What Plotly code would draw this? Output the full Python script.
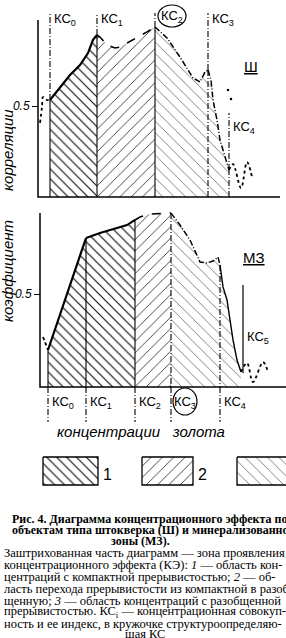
import plotly.graph_objects as go
import numpy as np

W, H = 286, 638

# ---------------- data: top panel (Ш) ----------------
top_kc_labels = ["КС<sub>0</sub>", "КС<sub>1</sub>", "КС<sub>2</sub>", "КС<sub>3</sub>", "КС<sub>4</sub>"]
top_kc_x = [12, 59, 117, 170, 191]
top_x = [12, 22, 32, 42, 50, 55, 59, 62, 69, 77, 82, 95, 109, 117, 129, 142, 155, 162,
         167, 170, 173, 175, 179, 182, 187, 191]
top_y = [0.533, 0.599, 0.670, 0.725, 0.791, 0.863, 0.890, 0.879, 0.835, 0.819, 0.824,
         0.863, 0.907, 0.934, 0.874, 0.769, 0.654, 0.632, 0.687, 0.698, 0.643, 0.533,
         0.423, 0.313, 0.220, 0.148]
top_left_x = [2, 4, 5, 9, 12]
top_left_y = [0.407, 0.495, 0.549, 0.533, 0.533]
top_right_x = [191, 195, 203, 209, 214]
top_right_y = [0.148, 0.181, 0.049, 0.192, 0.110]
top_dots_x = [190, 193]
top_dots_y = [0.588, 0.538]

# ---------------- data: bottom panel (МЗ) ----------------
bot_kc_labels = ["КС<sub>0</sub>", "КС<sub>1</sub>", "КС<sub>2</sub>", "КС<sub>3</sub>", "КС<sub>4</sub>", "КС<sub>5</sub>"]
bot_kc_x = [8, 46, 95, 131, 180, 201]
bot_x = [8, 17, 27, 37, 46, 60, 77, 87, 95, 100, 110, 123, 131, 140, 150, 160, 167,
         173, 178, 180, 183, 187, 190, 193, 197, 201]
bot_y = [0.199, 0.344, 0.505, 0.667, 0.801, 0.828, 0.855, 0.871, 0.898, 0.914, 0.930,
         0.935, 0.935, 0.871, 0.790, 0.672, 0.667, 0.677, 0.699, 0.656, 0.538, 0.468,
         0.360, 0.253, 0.145, 0.081]
bot_left_x = [3, 5, 8]
bot_left_y = [0.269, 0.242, 0.199]
bot_right_x = [201, 207, 213, 223, 228]
bot_right_y = [0.081, 0.129, 0.027, 0.134, 0.081]

# ---------------- pixel frame helpers ----------------
def py(p):
    return 1 - p / H

TOP_DOM = (205, 0)      # pixel rows (bottom, top)
BOT_DOM = (440, 205)
TOP_Y0, TOP_K = 197, 182   # pixel row of y=0 and px per unit
BOT_Y0, BOT_K = 387, 186

top_range = [(TOP_Y0 - TOP_DOM[0]) / TOP_K, (TOP_Y0 - TOP_DOM[1]) / TOP_K]
bot_range = [(BOT_Y0 - BOT_DOM[0]) / BOT_K, (BOT_Y0 - BOT_DOM[1]) / BOT_K]

P1 = dict(shape="\\", size=7, solidity=0.17, fgcolor="#111", bgcolor="rgba(0,0,0,0)", fillmode="replace")
P2 = dict(shape="/", size=8, solidity=0.11, fgcolor="#333", bgcolor="rgba(0,0,0,0)", fillmode="replace")
P3 = dict(shape="\\", size=8, solidity=0.10, fgcolor="#666", bgcolor="rgba(0,0,0,0)", fillmode="replace")
DASHDOT = "6px,2px,1px,2px"

fig = go.Figure()


def seg(xs, ys, a, b):
    pts = [(x, y) for x, y in zip(xs, ys) if a <= x <= b]
    return [p[0] for p in pts], [p[1] for p in pts]


def panel(xs, ys, kcs, pats, dashes, widths, xa, ya):
    for i in range(len(kcs) - 1):
        sx, sy = seg(xs, ys, kcs[i], kcs[i + 1])
        fig.add_trace(go.Scatter(x=sx, y=sy, fill="tozeroy", mode="lines",
                                 line=dict(width=0), fillcolor="rgba(0,0,0,0)",
                                 fillpattern=pats[i], xaxis=xa, yaxis=ya, hoverinfo="skip"))
    for i in range(len(kcs) - 1):
        sx, sy = seg(xs, ys, kcs[i], kcs[i + 1])
        fig.add_trace(go.Scatter(x=sx, y=sy, mode="lines",
                                 line=dict(color="black", width=widths[i], dash=dashes[i]),
                                 xaxis=xa, yaxis=ya, hoverinfo="skip"))


panel(top_x, top_y, top_kc_x, [P1, P2, P3, P3],
      ["solid", "dash", DASHDOT, DASHDOT], [2.2, 1.6, 1.5, 1.5], "x", "y")
panel(bot_x, bot_y, bot_kc_x, [P1, P1, P2, P3, P3],
      ["solid", "solid", "dash", DASHDOT, "solid"], [2.2, 2.0, 1.6, 1.5, 1.4], "x2", "y2")

# dotted tails
for xs, ys, xa, ya in [(top_left_x, top_left_y, "x", "y"), (top_right_x, top_right_y, "x", "y"),
                       (bot_left_x, bot_left_y, "x2", "y2"), (bot_right_x, bot_right_y, "x2", "y2")]:
    fig.add_trace(go.Scatter(x=xs, y=ys, mode="lines", line=dict(color="black", width=1.8, dash="dot"),
                             line_shape="spline", xaxis=xa, yaxis=ya, hoverinfo="skip"))
fig.add_trace(go.Scatter(x=top_dots_x, y=top_dots_y, mode="markers",
                         marker=dict(color="black", size=2.5), xaxis="x", yaxis="y"))

# axes (L shapes)
top_axis_top = (TOP_Y0 - 20) / TOP_K
bot_axis_top = (BOT_Y0 - 213) / BOT_K
fig.add_trace(go.Scatter(x=[0, 0, 242], y=[top_axis_top, 0, 0], mode="lines",
                         line=dict(color="black", width=1.5), xaxis="x", yaxis="y"))
fig.add_trace(go.Scatter(x=[0, 0, 246], y=[bot_axis_top, 0, 0], mode="lines",
                         line=dict(color="black", width=1.5), xaxis="x2", yaxis="y2"))

# vertical KC lines - top
top_line_top = (TOP_Y0 - 13) / TOP_K
kc4_top = (TOP_Y0 - 113) / TOP_K
for i, k in enumerate(top_kc_x):
    yk = float(np.interp(k, top_x, top_y))
    upper = kc4_top if i == 4 else top_line_top
    fig.add_trace(go.Scatter(x=[k, k], y=[0, yk], mode="lines",
                             line=dict(color="black", width=1.1, dash="solid" if i < 3 else DASHDOT),
                             xaxis="x", yaxis="y"))
    fig.add_trace(go.Scatter(x=[k, k], y=[yk, upper], mode="lines",
                             line=dict(color="black", width=1.1, dash=DASHDOT), xaxis="x", yaxis="y"))

# vertical KC lines - bottom
bot_line_low = (BOT_Y0 - 422) / BOT_K
for i, k in enumerate(bot_kc_x[:5]):
    yk = float(np.interp(k, bot_x, bot_y))
    fig.add_trace(go.Scatter(x=[k, k], y=[yk, 0], mode="lines",
                             line=dict(color="black", width=1.1, dash="solid" if i < 3 else DASHDOT),
                             xaxis="x2", yaxis="y2"))
    fig.add_trace(go.Scatter(x=[k, k], y=[0, bot_line_low], mode="lines",
                             line=dict(color="black", width=1.1, dash=DASHDOT), xaxis="x2", yaxis="y2"))
kc5 = bot_kc_x[5] + 2
fig.add_trace(go.Scatter(x=[kc5, kc5], y=[(BOT_Y0 - 285) / BOT_K, (BOT_Y0 - 373) / BOT_K], mode="lines",
                         line=dict(color="black", width=1.2), xaxis="x2", yaxis="y2"))

ann = []
LF = dict(family="Liberation Sans, Arial", size=13, color="black")


def A(**kw):
    kw.setdefault("showarrow", False)
    kw.setdefault("xanchor", "left")
    kw.setdefault("yanchor", "middle")
    ann.append(kw)


top_lab_y = (TOP_Y0 - 19) / TOP_K
for i, (k, t) in enumerate(zip(top_kc_x, top_kc_labels)):
    if i == 4:
        A(x=k + 2, y=(TOP_Y0 - 127) / TOP_K, xref="x", yref="y", text=t, font=LF)
    elif i == 2:
        A(x=k + 17, y=(TOP_Y0 - 16) / TOP_K, xref="x", yref="y", text=t, xanchor="center", font=LF)
    else:
        A(x=k + 2, y=top_lab_y, xref="x", yref="y", text=t, font=LF)

bot_lab_y = (BOT_Y0 - 402) / BOT_K
for i, (k, t) in enumerate(zip(bot_kc_x[:5], bot_kc_labels[:5])):
    if i == 3:
        A(x=k + 14, y=bot_lab_y, xref="x2", yref="y2", text=t, xanchor="center", font=LF)
    else:
        A(x=k + 2, y=bot_lab_y, xref="x2", yref="y2", text=t, font=LF)
A(x=kc5 + 2, y=(BOT_Y0 - 337) / BOT_K, xref="x2", yref="y2", text=bot_kc_labels[5], font=LF)

A(x=204, y=(TOP_Y0 - 66) / TOP_K, xref="x", yref="y", text="<u>Ш</u>",
  font=dict(family="Liberation Sans", size=15, color="black"))
A(x=214, y=(BOT_Y0 - 257) / BOT_K, xref="x2", yref="y2", text="<u>МЗ</u>", xanchor="center",
  font=dict(family="Liberation Sans", size=15, color="black"))

IF = dict(family="Liberation Sans, Arial", size=15, color="black", style="italic")
A(x=7 / W, y=py(150), xref="paper", yref="paper", text="корреляции", textangle=-90,
  xanchor="center", font=IF)
A(x=7 / W, y=py(271), xref="paper", yref="paper", text="коэффициент", textangle=-90,
  xanchor="center", font=IF)
A(x=141 / W, y=py(431), xref="paper", yref="paper", text="концентрации   золота",
  xanchor="center", font=IF)

# legend swatches
for x0, x1, p, lab in [(43, 98, P1, "1"), (142, 193, P2, "2"), (237, 300, P3, "")]:
    fig.add_trace(go.Scatter(x=[x0, x1, x1, x0, x0], y=[457, 457, 485, 485, 457], mode="lines",
                             fill="toself", fillcolor="rgba(0,0,0,0)", fillpattern=p,
                             line=dict(color="black", width=1.3), xaxis="x3", yaxis="y3"))
    if lab:
        A(x=x1 + 9, y=474, xref="x3", yref="y3", text=lab, xanchor="center",
          font=dict(family="Liberation Sans", size=16, color="black"))

# caption
CF = dict(family="Liberation Serif, Times New Roman", size=12.5, color="black")
CFB = dict(family="Liberation Serif, Times New Roman", size=12, color="black")
bold_lines = [("Рис. 4. Диаграмма концентрационного эффекта по", 519, 10, "left"),
              ("объектам типа штокверка (Ш) и минерализованной", 530, 10, "left"),
              ("зоны (МЗ).", 541, 140, "center")]
for t, y, x, a in bold_lines:
    A(x=x / W, y=py(y), xref="paper", yref="paper", text="<b>" + t + "</b>", xanchor=a, font=CFB)
body = [("Заштрихованная часть диаграмм — зона проявления", 553),
        ("концентрационного эффекта (КЭ): <i>1</i> — область кон-", 565),
        ("центраций с компактной прерывистостью; <i>2</i> — об-", 577),
        ("ласть перехода прерывистости из компактной в разоб-", 589),
        ("щенную; <i>3</i> — область концентраций с разобщенной", 601),
        ("прерывистостью. КС<sub>i</sub> — концентрационная совокуп-", 612),
        ("ность и ее индекс, в кружочке структуроопределяю-", 624)]
for t, y in body:
    A(x=2 / W, y=py(y), xref="paper", yref="paper", text=t, font=CF)
A(x=145 / W, y=py(634), xref="paper", yref="paper", text="щая КС", xanchor="center", font=CF)

shapes = [
    dict(type="circle", xref="x", yref="y", x0=top_kc_x[2] + 3, x1=top_kc_x[2] + 31,
         y0=(TOP_Y0 - 27) / TOP_K, y1=(TOP_Y0 - 5) / TOP_K, line=dict(color="black", width=1.2)),
    dict(type="circle", xref="x2", yref="y2", x0=bot_kc_x[3] + 2, x1=bot_kc_x[3] + 26,
         y0=(BOT_Y0 - 415) / BOT_K, y1=(BOT_Y0 - 388) / BOT_K, line=dict(color="black", width=1.2)),
]

tickfont = dict(family="Liberation Sans, Arial", size=12, color="black", style="italic")
fig.update_layout(
    width=W, height=H, margin=dict(l=0, r=0, t=0, b=0),
    paper_bgcolor="white", plot_bgcolor="rgba(0,0,0,0)", showlegend=False,
    annotations=ann, shapes=shapes,
    xaxis=dict(domain=[0, 1], range=[-38, 248], visible=False, anchor="y"),
    yaxis=dict(domain=[py(TOP_DOM[0]), py(TOP_DOM[1])], range=top_range, anchor="free",
               position=38 / W, showgrid=False, zeroline=False, showline=False,
               tickvals=[0.5], ticktext=["0.5"], ticks="outside", ticklen=6,
               tickcolor="black", tickfont=tickfont),
    xaxis2=dict(domain=[0, 1], range=[-40, 246], visible=False, anchor="y2"),
    yaxis2=dict(domain=[py(BOT_DOM[0]), py(BOT_DOM[1])], range=bot_range, anchor="free",
                position=40 / W, showgrid=False, zeroline=False, showline=False,
                tickvals=[0.5], ticktext=["0.5"], ticks="outside", ticklen=6,
                tickcolor="black", tickfont=tickfont),
    xaxis3=dict(domain=[0, 1], range=[0, W], visible=False, anchor="y3"),
    yaxis3=dict(domain=[py(495), py(450)], range=[495, 450], visible=False, anchor="x3"),
)

fig.write_html("out.html")
